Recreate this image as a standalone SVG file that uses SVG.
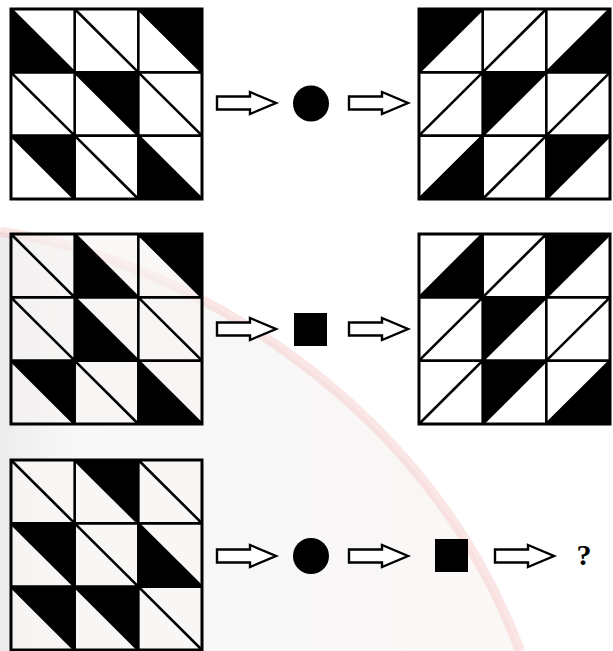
<svg xmlns="http://www.w3.org/2000/svg" width="613" height="651" viewBox="0 0 613 651">
  <style>
    .ln { stroke: #000; stroke-width: 2.6; fill: none; }
    .frame { stroke: #000; stroke-width: 3; fill: none; }
    .blk { fill: #000; }
    .arrow { fill: #fff; stroke: #000; stroke-width: 2.4; stroke-linejoin: miter; }
    .q { font-family: "Liberation Serif", "Times New Roman", serif; font-weight: bold; font-size: 30px; fill: #000; }
  </style>
  <defs>
    <g id="gridBack">
      <path class="ln" d="M63.67,0 V190 M127.33,0 V190 M0,63.33 H191 M0,126.67 H191
        M0,0 L63.67,63.33 M63.67,0 L127.33,63.33 M127.33,0 L191,63.33
        M0,63.33 L63.67,126.67 M63.67,63.33 L127.33,126.67 M127.33,63.33 L191,126.67
        M0,126.67 L63.67,190 M63.67,126.67 L127.33,190 M127.33,126.67 L191,190"/>
      <rect class="frame" x="0" y="0" width="191" height="190"/>
    </g>
    <g id="gridFwd">
      <path class="ln" d="M63.67,0 V190 M127.33,0 V190 M0,63.33 H191 M0,126.67 H191
        M0,63.33 L63.67,0 M63.67,63.33 L127.33,0 M127.33,63.33 L191,0
        M0,126.67 L63.67,63.33 M63.67,126.67 L127.33,63.33 M127.33,126.67 L191,63.33
        M0,190 L63.67,126.67 M63.67,190 L127.33,126.67 M127.33,190 L191,126.67"/>
      <rect class="frame" x="0" y="0" width="191" height="190"/>
    </g>
    <path id="arr" class="arrow" d="M0,-6.5 H33 V-11 L59,0 L33,11 V6.5 H0 Z"/>
    <linearGradient id="haze" x1="0" y1="0" x2="1" y2="0">
      <stop offset="0" stop-color="#c8c8cc" stop-opacity="0.35"/>
      <stop offset="0.15" stop-color="#e6e4e6" stop-opacity="0.25"/>
      <stop offset="1" stop-color="#f6efec" stop-opacity="0.5"/>
    </linearGradient>
  </defs>

  <rect x="0" y="0" width="613" height="651" fill="#ffffff"/>
  <g id="watermark">
    <path d="M0,232 C150,250 420,380 520,651 L0,651 Z" fill="url(#haze)"/>
    <path d="M0,232 C150,250 420,380 520,651" fill="none" stroke="#f4b8b8" stroke-opacity="0.35" stroke-width="10"/>
  </g>

  <g id="grid1" transform="translate(11,9)">
    <rect x="0" y="0" width="191" height="190" fill="#fff"/>
    <polygon class="blk" points="0,0 0,63.33 63.67,63.33"/>
    <polygon class="blk" points="127.33,0 191,0 191,63.33"/>
    <polygon class="blk" points="63.67,63.33 127.33,63.33 127.33,126.67"/>
    <polygon class="blk" points="0,126.67 63.67,126.67 63.67,190"/>
    <polygon class="blk" points="127.33,126.67 127.33,190 191,190"/>
    <use href="#gridBack"/>
  </g>

  <g id="grid2" transform="translate(419,9)">
    <rect x="0" y="0" width="191" height="190" fill="#fff"/>
    <polygon class="blk" points="0,0 63.67,0 0,63.33"/>
    <polygon class="blk" points="191,0 191,63.33 127.33,63.33"/>
    <polygon class="blk" points="63.67,63.33 127.33,63.33 63.67,126.67"/>
    <polygon class="blk" points="63.67,126.67 63.67,190 0,190"/>
    <polygon class="blk" points="127.33,126.67 191,126.67 127.33,190"/>
    <use href="#gridFwd"/>
  </g>

  <g id="grid3" transform="translate(11,234)">
    <rect x="0" y="0" width="191" height="190" fill="#f7f4f2" fill-opacity="0.6"/>
    <polygon class="blk" points="63.67,0 63.67,63.33 127.33,63.33"/>
    <polygon class="blk" points="127.33,0 191,0 191,63.33"/>
    <polygon class="blk" points="63.67,63.33 63.67,126.67 127.33,126.67"/>
    <polygon class="blk" points="0,126.67 63.67,126.67 63.67,190"/>
    <polygon class="blk" points="127.33,126.67 127.33,190 191,190"/>
    <use href="#gridBack"/>
  </g>

  <g id="grid4" transform="translate(419,234)">
    <rect x="0" y="0" width="191" height="190" fill="#fff"/>
    <polygon class="blk" points="63.67,0 63.67,63.33 0,63.33"/>
    <polygon class="blk" points="127.33,0 191,0 127.33,63.33"/>
    <polygon class="blk" points="63.67,63.33 127.33,63.33 63.67,126.67"/>
    <polygon class="blk" points="63.67,126.67 127.33,126.67 63.67,190"/>
    <polygon class="blk" points="191,126.67 191,190 127.33,190"/>
    <use href="#gridFwd"/>
  </g>

  <g id="grid5" transform="translate(11,460)">
    <rect x="0" y="0" width="191" height="189" fill="#f9f6f4" fill-opacity="0.7"/>
    <polygon class="blk" points="63.67,0 127.33,0 127.33,63.33"/>
    <polygon class="blk" points="0,63.33 63.67,63.33 63.67,126.67"/>
    <polygon class="blk" points="127.33,63.33 127.33,126.67 191,126.67"/>
    <polygon class="blk" points="0,126.67 63.67,126.67 63.67,190"/>
    <polygon class="blk" points="63.67,126.67 127.33,126.67 127.33,190"/>
    <use href="#gridBack"/>
  </g>

  <g id="circle1"><circle cx="311" cy="103.5" r="18" fill="#000"/></g>
  <g id="square1"><rect x="294" y="313" width="33" height="33" fill="#000"/></g>
  <g id="circle2"><circle cx="311" cy="556" r="18" fill="#000"/></g>
  <g id="square2"><rect x="435" y="539" width="33" height="33" fill="#000"/></g>
  <g id="question"><text class="q" x="584" y="565" text-anchor="middle">?</text></g>

  <g id="connectors">
    <use href="#arr" transform="translate(217,103)"/>
    <use href="#arr" transform="translate(349,103)"/>
    <use href="#arr" transform="translate(217,329)"/>
    <use href="#arr" transform="translate(349,329)"/>
    <use href="#arr" transform="translate(217,556)"/>
    <use href="#arr" transform="translate(349,556)"/>
    <use href="#arr" transform="translate(495,556)"/>
  </g>
</svg>
